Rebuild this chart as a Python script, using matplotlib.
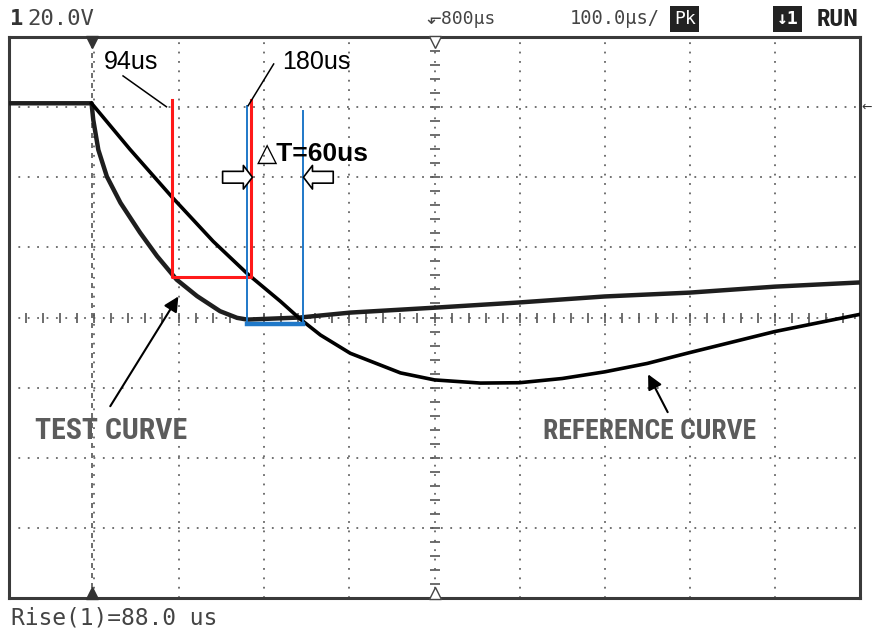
import matplotlib
matplotlib.use('Agg')
import matplotlib.pyplot as plt
from matplotlib import font_manager as fm

# screen units: time in us from the left edge (100 us/div), volts (20 V/div)
test_t = [0, 97, 99, 105, 115, 131, 154, 174, 197, 221, 248, 268, 280, 342, 401, 500, 600, 700, 800, 900, 1000]
test_v = [61.1, 61.1, 56.4, 47.8, 40.2, 32.7, 24.2, 17.5, 10.8, 6.1, 1.8, -0.1, -0.6, 0.0, 1.4, 2.8, 4.3, 6.0, 7.1, 8.8, 10.0]

ref_t = [97, 142, 191, 240, 280, 319, 342, 366, 401, 460, 500, 554, 600, 650, 700, 750, 800, 900, 1000]
ref_v = [61.1, 48.0, 34.5, 21.7, 12.5, 4.6, -0.4, -5.0, -10.2, -15.8, -17.8, -18.7, -18.6, -17.4, -15.5, -13.1, -10.0, -4.0, 0.9]

# red cursors (94us / 180us) and blue cursors (delta T)
red_t = [191, 284]
red_top = 62.1
red_level = 11.5
blue_t = [280, 345]
blue_top = [60.4, 59.0]
blue_level = -1.8

grid_t = [100, 200, 300, 400, 500, 600, 700, 800, 900]
grid_v = [-60, -40, -20, 0, 20, 40, 60]
trig_t = 97

cursor_labels = ['94us', '180us']
delta_label = '\u25b3T=60us'
curve_labels = ['TEST CURVE', 'REFERENCE CURVE']
header = ['1', '20.0V', '\u2b10800\u00b5s', '100.0\u00b5s/', 'Pk', '\u21931', 'RUN']
footer = 'Rise(1)=88.0 us'


def condensed_bold():
    wanted = ['Liberation Sans Narrow', 'Roboto Condensed', 'Open Sans Condensed', 'DejaVu Sans']
    best = None
    for name in wanted:
        for f in fm.fontManager.ttflist:
            if f.name != name or f.style != 'normal':
                continue
            if f.weight not in ('bold', 700, '700'):
                continue
            if name == 'DejaVu Sans' and f.stretch not in ('condensed', 'semi-condensed'):
                continue
            best = f
            break
        if best is not None:
            break
    if best is None:
        return fm.FontProperties(family='Liberation Sans', weight='bold')
    return fm.FontProperties(fname=best.fname)


W, H = 873, 631
fig = plt.figure(figsize=(W / 100, H / 100), dpi=100)
renderer = fig.canvas.get_renderer()


def fit_width(txt, width_px):
    # shrink/grow the font so the label spans the same width as on the scope print
    size = txt.get_fontsize()
    w = txt.get_window_extent(renderer).width
    txt.set_fontsize(size * width_px / w)


ax = fig.add_axes([9 / W, 33 / H, 851 / W, 561 / H])
ax.set_xlim(0, 1000)
ax.set_ylim(-80, 80)
ax.set_xticks([])
ax.set_yticks([])
for sp in ax.spines.values():
    sp.set_linewidth(2.2)
    sp.set_color('#3a3a3a')

# dotted graticule
for t in grid_t:
    ax.axvline(t, color='#666666', lw=1.3, ls=(0, (1, 4.2)), zorder=1)
for v in grid_v:
    ax.axhline(v, color='#666666', lw=1.3, ls=(0, (1, 4.2)), zorder=1)

# centre axes with minor ticks
tick_t = [t for t in range(20, 1000, 20)]
ax.plot(tick_t, [0] * len(tick_t), ls='none', marker='|', ms=7, mew=1.2, color='#555555', zorder=1)
tick_v = [v for v in range(-76, 80, 4)]
ax.plot([500] * len(tick_v), tick_v, ls='none', marker='_', ms=7, mew=1.2, color='#555555', zorder=1)
ax.axvline(trig_t, color='#555555', lw=1.2, ls=(0, (3, 3)), zorder=1)

# trigger / centre markers on the frame
ax.plot([trig_t], [78.5], marker='v', ms=8, color='#333333', clip_on=False, zorder=3)
ax.plot([trig_t], [-78.5], marker='^', ms=8, color='#333333', clip_on=False, zorder=3)
ax.plot([500], [78.5], marker='v', ms=8, mfc='white', mec='#444444', clip_on=False, zorder=3)
ax.plot([500], [-78.5], marker='^', ms=8, mfc='white', mec='#444444', clip_on=False, zorder=3)
ax.text(1002, 60, '\u2190', fontsize=9, color='#333333', va='center', ha='left', clip_on=False)

# traces
ax.plot(test_t, test_v, color='#1e1e1e', lw=3.2, solid_capstyle='butt', zorder=4)
ax.plot(ref_t, ref_v, color='black', lw=2.6, zorder=5)

# red cursors
ax.plot([red_t[0], red_t[0], red_t[1], red_t[1]], [red_top, red_level, red_level, red_top],
        color='#ff1a1a', lw=2.2, zorder=6)
# blue cursors
ax.plot([blue_t[0], blue_t[0]], [blue_top[0], blue_level], color='#1f78c8', lw=1.4, zorder=6)
ax.plot([blue_t[1], blue_t[1]], [blue_top[1], blue_level], color='#1f78c8', lw=1.4, zorder=6)
ax.plot(blue_t, [blue_level, blue_level], color='#1f78c8', lw=3.2, zorder=6)

# cursor labels with leader lines
ax.text(112, 72.9, cursor_labels[0], fontsize=18, family='Liberation Sans', va='center', ha='left')
ax.text(321, 72.9, cursor_labels[1], fontsize=18, family='Liberation Sans', va='center', ha='left')
ax.plot([134, 185], [68.9, 60.1], color='black', lw=1.1, zorder=6)
ax.plot([311, 281], [72.3, 60.4], color='black', lw=1.1, zorder=6)

# delta T label and hollow arrows
ax.text(291, 46.7, delta_label, fontsize=19, fontweight='bold',
        family=['Liberation Sans', 'DejaVu Sans'], va='center', ha='left', zorder=7)
arrow_style = 'simple,head_length=0.65,head_width=1.7,tail_width=0.85'
ax.annotate('', xy=(286, 40), xytext=(251, 40),
            arrowprops=dict(arrowstyle=arrow_style, fc='white', ec='black', lw=1.2,
                            mutation_scale=10, shrinkA=0, shrinkB=0), zorder=7)
ax.annotate('', xy=(346, 40), xytext=(381, 40),
            arrowprops=dict(arrowstyle=arrow_style, fc='white', ec='black', lw=1.2,
                            mutation_scale=10, shrinkA=0, shrinkB=0), zorder=7)

# curve names with pointer arrows
cond = condensed_bold()
t1 = ax.text(31, -32.5, curve_labels[0], fontproperties=cond, fontsize=21,
             color='#5c5c5c', va='center', ha='left')
t2 = ax.text(628, -32.5, curve_labels[1], fontproperties=cond, fontsize=21,
             color='#5c5c5c', va='center', ha='left')
fit_width(t1, 152)
fit_width(t2, 212)
ax.annotate('', xy=(199, 6.0), xytext=(119, -25.3),
            arrowprops=dict(arrowstyle='-|>', color='black', lw=1.5, mutation_scale=22,
                            shrinkA=0, shrinkB=0))
ax.annotate('', xy=(751, -16.2), xytext=(774, -27.0),
            arrowprops=dict(arrowstyle='-|>', color='black', lw=1.5, mutation_scale=22,
                            shrinkA=0, shrinkB=0))

# header and footer text of the scope
mono = ['DejaVu Sans Mono', 'DejaVu Sans']
hy = 1 - 19 / H
fig.text(10 / W, hy, header[0], fontsize=16, fontweight='bold', family=mono, color='#333333', va='center')
fig.text(27 / W, hy, header[1], fontsize=16, family=mono, color='#444444', va='center')
fig.text(426 / W, hy, header[2], fontsize=13, family=mono, color='#444444', va='center')
fig.text(570 / W, hy, header[3], fontsize=13.5, family=mono, color='#444444', va='center')
fig.text(674 / W, hy, header[4], fontsize=13, family=mono, color='white', va='center',
         bbox=dict(boxstyle='square,pad=0.2', fc='#222222', ec='none'))
fig.text(777 / W, hy, header[5], fontsize=13, fontweight='bold', family=mono, color='white', va='center',
         bbox=dict(boxstyle='square,pad=0.2', fc='#222222', ec='none'))
run = fig.text(817 / W, hy, header[6], fontproperties=cond, fontsize=16, color='#222222', va='center')
fit_width(run, 42)
fig.text(11 / W, 1 - 618 / H, footer, fontsize=16.5, family=mono, color='#444444', va='center')

fig.savefig('out.png', dpi=100, facecolor='white')
